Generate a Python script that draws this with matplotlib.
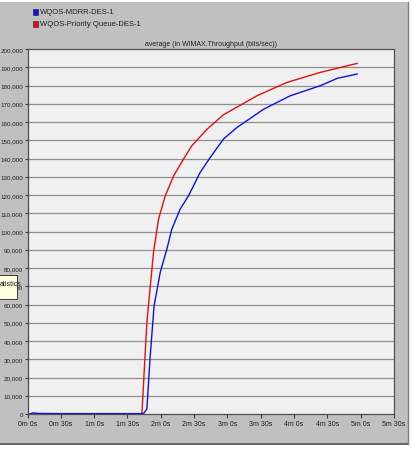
import matplotlib
matplotlib.use("Agg")
import matplotlib.pyplot as plt
from matplotlib.patches import Rectangle

# ---- data (time in seconds, throughput in bits/sec) ----
mdrr_t = [2, 5, 10, 30, 60, 90, 104.4, 107.5, 110.5, 114, 119.5, 125.5, 130, 137.5,
          145, 155.5, 164.6, 176.5, 188.6, 212.6, 236.7, 263.7, 278.8, 296.8]
mdrr_v = [0, 600, 300, 200, 200, 200, 200, 2700, 32000, 59300, 77600, 90400, 101400,
          112300, 119600, 132400, 140600, 150700, 157000, 167000, 174400, 179900,
          183900, 186300]

pq_t = [2, 30, 60, 90, 103, 107.5, 113.5, 118, 124, 131.5, 140.5, 148, 161.6, 176.5,
        206.7, 233.7, 263.7, 296.8]
pq_v = [0, 0, 0, 0, 0, 50400, 88800, 106800, 119500, 130400, 139700, 147000, 156000,
        164000, 174400, 181700, 187200, 192100]

series_names = ["WQOS-MDRR-DES-1", "WQOS-Priority Queue-DES-1"]
series_colors = ["#1010e0", "#e01010"]

x_ticks = list(range(0, 331, 30))
x_tick_labels = ["0m 0s", "0m 30s", "1m 0s", "1m 30s", "2m 0s", "2m 30s", "3m 0s",
                 "3m 30s", "4m 0s", "4m 30s", "5m 0s", "5m 30s"]
y_ticks = list(range(0, 200001, 10000))
y_tick_labels = ["{:,}".format(v) for v in y_ticks]

title = "average (in WiMAX.Throughput (bits/sec))"

plt.rcParams['font.family'] = ['Liberation Sans Narrow', 'Liberation Sans', 'DejaVu Sans']

W, H = 412, 456
fig = plt.figure(figsize=(W / 100, H / 100), dpi=100, facecolor="white")

# gray panel
fig.patches.append(Rectangle((0, 1 - 445 / H), 408 / W, (445 - 3) / H,
                             transform=fig.transFigure, facecolor="#c0c0c0",
                             edgecolor="none", zorder=-5))
fig.lines.append(plt.Line2D([0, 408 / W], [1 - 445 / H, 1 - 445 / H],
                            transform=fig.transFigure, color="#505050", lw=1.2, zorder=-4))
fig.lines.append(plt.Line2D([408 / W, 408 / W], [1 - 445 / H, 1 - 3 / H],
                            transform=fig.transFigure, color="#808080", lw=1.0, zorder=-4))

ax = fig.add_axes([27.5 / W, 1 - 415 / H, (394 - 27.5) / W, (415 - 50) / H])
ax.set_facecolor("#f0f0f0")

for yv in y_ticks[1:-1]:
    ax.axhline(yv, color="#909090", lw=0.9, zorder=1)

ax.plot(pq_t, pq_v, color=series_colors[1], lw=1.0, zorder=3)
ax.plot(mdrr_t, mdrr_v, color=series_colors[0], lw=1.0, zorder=4)

ax.set_xlim(0, 330)
ax.set_ylim(0, 200000)
ax.set_xticks(x_ticks)
ax.set_xticklabels(x_tick_labels)
ax.set_yticks(y_ticks)
ax.set_yticklabels(y_tick_labels)
ax.tick_params(axis="x", labelsize=5.0, length=3, width=0.8, color="#404040",
               labelcolor="#202020", pad=1.5)
ax.tick_params(axis="y", labelsize=4.5, length=2.5, width=0.8, color="#404040",
               labelcolor="#202020", pad=0.8)
for s in ax.spines.values():
    s.set_color("#505050")
    s.set_linewidth(0.9)

ax.set_title(title, fontsize=5.0, color="#202020", pad=3, x=0.5)

# legend
for i, (name, col) in enumerate(zip(series_names, series_colors)):
    yy = 1 - (13 + 12 * i) / H
    fig.patches.append(Rectangle((33 / W, yy - 3 / H), 5 / W, 6 / H,
                                 transform=fig.transFigure, facecolor=col,
                                 edgecolor="#202020", lw=0.4))
    fig.text(40 / W, yy, name, fontsize=5.5, va="center", ha="left", color="#202020")

# tooltip fragment
fig.patches.append(Rectangle((-2 / W, 1 - 300 / H), 19 / W, 24 / H,
                             transform=fig.transFigure, facecolor="#ffffe1",
                             edgecolor="#202020", lw=0.6, zorder=5))
fig.text(0, 1 - 284 / H, "atistics", fontsize=5.0, va="center", ha="left",
         color="#202020", zorder=6)

fig.savefig("out.png", dpi=100, facecolor=fig.get_facecolor())
